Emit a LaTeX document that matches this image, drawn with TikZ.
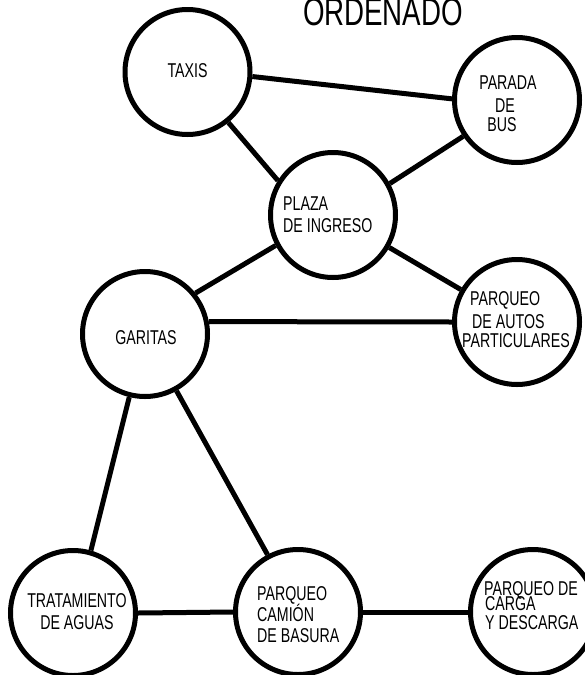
\documentclass[tikz,border=0pt]{standalone}
\usepackage{fontspec}
\setmainfont[FakeStretch=0.71]{Liberation Sans}
\begin{document}
\begin{tikzpicture}[x=1pt,y=-1pt,
  zone/.style={circle,draw=black,line width=5pt,minimum size=125pt,inner sep=0pt,fill=white},
  link/.style={line width=5pt,draw=black},
  lbl/.style={font=\fontsize{20}{22}\selectfont,inner sep=0pt,anchor=base},
  lblw/.style={font=\fontsize{20}{22}\selectfont,inner sep=0pt,anchor=base west}]
\useasboundingbox (0,0) rectangle (585,675);
% title
\node[font=\fontsize{39}{40}\selectfont,inner sep=0pt,anchor=base] (title) at (383,25) {ORDENADO};
% circles
\node[zone] (taxis) at (187.5,72) {};
\node[zone] (parada) at (517,100) {};
\node[zone] (plaza) at (333,215) {};
\node[zone] (gar) at (145,334) {};
\node[zone] (autos) at (517,322) {};
\node[zone] (trat) at (73,613) {};
\node[zone] (camion) at (298,612) {};
\node[zone] (carga) at (533,612) {};
% connectors
\draw[link] (taxis.-4.4) -- (parada.179);
\draw[link] (taxis.-51) -- (plaza.148);
\draw[link] (parada.214.6) -- (plaza.29);
\draw[link] (plaza.208.8) -- (gar.39);
\draw[link] (plaza.-30.6) -- (autos.150.5);
\draw[link] (gar.11) -- (autos.180);
\draw[link] (gar.-104) -- (trat.74.5);
\draw[link] (gar.-61) -- (camion.118.5);
\draw[link] (trat.0) -- (camion.180);
\draw[link] (camion.0) -- (carga.180);
% labels
\node[lbl] (t1) at (187.5,77.2) {TAXIS};
\node[lbl] (p1) at (508,89) {PARADA};
\node[lbl] (p2) at (505,112) {DE};
\node[lbl] (p3) at (502,131) {BUS};
\node[lblw] (pl1) at (283,210) {PLAZA};
\node[lblw] (pl2) at (283,232) {DE INGRESO};
\node[lbl] (g1) at (146,344) {GARITAS};
\node[lblw] (a1) at (470,305) {PARQUEO};
\node[lblw] (a2) at (472,328) {DE AUTOS};
\node[lblw] (a3) at (462,347) {PARTICULARES};
\node[lbl] (tr1) at (77,607) {TRATAMIENTO};
\node[lbl] (tr2) at (77,629) {DE AGUAS};
\node[lblw] (c1) at (257,600) {PARQUEO};
\node[lblw] (c2) at (257,621) {CAMIÓN};
\node[lblw] (c3) at (257,642) {DE BASURA};
\node[lblw] (d1) at (484,595) {PARQUEO DE};
\node[lblw] (d2) at (485,610) {CARGA};
\node[lblw] (d3) at (485,629) {Y DESCARGA};
\end{tikzpicture}
\end{document}
